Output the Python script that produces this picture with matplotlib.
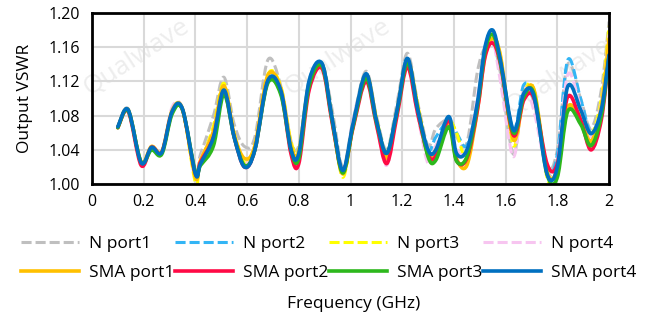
import matplotlib
matplotlib.use("Agg")
from matplotlib import pyplot as plt
from matplotlib.path import Path
from matplotlib.patches import PathPatch
from matplotlib.lines import Line2D

plt.rcParams['font.family'] = ['Open Sans', 'DejaVu Sans']

freq = [0.10, 0.14, 0.19, 0.23, 0.27, 0.31, 0.35, 0.40,
        0.42, 0.47, 0.51, 0.55, 0.59, 0.63, 0.68, 0.73,
        0.77, 0.80, 0.84, 0.89, 0.93, 0.97, 1.01, 1.06,
        1.10, 1.14, 1.18, 1.22, 1.26, 1.30, 1.33, 1.38,
        1.41, 1.45, 1.49, 1.52, 1.55, 1.58, 1.63, 1.67,
        1.71, 1.76, 1.80, 1.84, 1.89, 1.93, 1.97, 2.00]

n_port1 = [1.067, 1.088, 1.026, 1.043, 1.038, 1.085, 1.088, 1.015,
           1.035, 1.080, 1.125, 1.070, 1.044, 1.055, 1.145, 1.115,
           1.050, 1.045, 1.115, 1.140, 1.085, 1.020, 1.075, 1.132,
           1.080, 1.040, 1.095, 1.153, 1.095, 1.045, 1.065, 1.075,
           1.055, 1.048, 1.130, 1.160, 1.165, 1.130, 1.035, 1.110,
           1.095, 1.020, 1.040, 1.140, 1.100, 1.065, 1.110, 1.190]
n_port2 = [1.067, 1.087, 1.025, 1.043, 1.037, 1.085, 1.088, 1.012,
           1.024, 1.055, 1.110, 1.055, 1.020, 1.040, 1.121, 1.110,
           1.040, 1.036, 1.121, 1.141, 1.075, 1.016, 1.071, 1.129,
           1.075, 1.036, 1.087, 1.147, 1.087, 1.040, 1.055, 1.075,
           1.060, 1.045, 1.094, 1.160, 1.178, 1.145, 1.063, 1.116,
           1.100, 1.015, 1.035, 1.145, 1.100, 1.060, 1.090, 1.160]
n_port3 = [1.066, 1.087, 1.025, 1.044, 1.037, 1.086, 1.087, 1.002,
           1.025, 1.068, 1.118, 1.060, 1.025, 1.045, 1.128, 1.115,
           1.050, 1.040, 1.118, 1.138, 1.075, 1.008, 1.068, 1.128,
           1.078, 1.033, 1.088, 1.145, 1.092, 1.035, 1.035, 1.072,
           1.060, 1.030, 1.090, 1.150, 1.172, 1.150, 1.045, 1.105,
           1.110, 1.008, 1.010, 1.088, 1.080, 1.058, 1.100, 1.185]
n_port4 = [1.067, 1.087, 1.025, 1.044, 1.038, 1.090, 1.088, 1.010,
           1.030, 1.062, 1.112, 1.055, 1.025, 1.042, 1.125, 1.110,
           1.045, 1.034, 1.110, 1.138, 1.070, 1.012, 1.075, 1.125,
           1.070, 1.022, 1.090, 1.140, 1.080, 1.024, 1.045, 1.070,
           1.040, 1.040, 1.100, 1.158, 1.168, 1.120, 1.032, 1.110,
           1.085, 1.015, 1.025, 1.128, 1.090, 1.055, 1.095, 1.175]
sma_port1 = [1.066, 1.087, 1.026, 1.044, 1.038, 1.086, 1.088, 1.008,
             1.028, 1.062, 1.115, 1.058, 1.030, 1.045, 1.127, 1.112,
             1.045, 1.038, 1.118, 1.140, 1.073, 1.012, 1.068, 1.128,
             1.075, 1.030, 1.085, 1.145, 1.090, 1.035, 1.040, 1.072,
             1.030, 1.022, 1.085, 1.150, 1.170, 1.150, 1.052, 1.100,
             1.110, 1.015, 1.018, 1.090, 1.075, 1.050, 1.090, 1.170]
sma_port2 = [1.066, 1.085, 1.022, 1.043, 1.037, 1.084, 1.087, 1.012,
             1.026, 1.055, 1.108, 1.055, 1.020, 1.040, 1.120, 1.108,
             1.035, 1.024, 1.110, 1.135, 1.070, 1.015, 1.066, 1.120,
             1.070, 1.024, 1.080, 1.137, 1.082, 1.035, 1.033, 1.075,
             1.028, 1.030, 1.085, 1.148, 1.165, 1.140, 1.057, 1.098,
             1.100, 1.024, 1.024, 1.102, 1.075, 1.040, 1.075, 1.150]
sma_port3 = [1.066, 1.086, 1.026, 1.040, 1.035, 1.082, 1.087, 1.014,
             1.022, 1.045, 1.105, 1.055, 1.022, 1.040, 1.118, 1.105,
             1.040, 1.030, 1.115, 1.138, 1.073, 1.013, 1.068, 1.124,
             1.073, 1.036, 1.085, 1.142, 1.088, 1.032, 1.028, 1.067,
             1.027, 1.032, 1.090, 1.155, 1.175, 1.142, 1.060, 1.102,
             1.105, 1.012, 1.008, 1.085, 1.070, 1.045, 1.080, 1.150]
sma_port4 = [1.067, 1.087, 1.025, 1.043, 1.037, 1.085, 1.088, 1.012,
             1.024, 1.055, 1.110, 1.055, 1.020, 1.040, 1.121, 1.110,
             1.040, 1.036, 1.121, 1.141, 1.075, 1.016, 1.071, 1.129,
             1.075, 1.036, 1.087, 1.147, 1.087, 1.040, 1.040, 1.079,
             1.036, 1.040, 1.094, 1.160, 1.180, 1.145, 1.063, 1.106,
             1.102, 1.012, 1.020, 1.114, 1.087, 1.059, 1.087, 1.151]

x_ticks = [0, 0.2, 0.4, 0.6, 0.8, 1, 1.2, 1.4, 1.6, 1.8, 2]
x_labels = ['0', '0.2', '0.4', '0.6', '0.8', '1', '1.2', '1.4', '1.6', '1.8', '2']
y_ticks = [1.00, 1.04, 1.08, 1.12, 1.16, 1.20]

DASH = (0, (3.3, 1.3))


def smooth_path(xs, ys):
    # Excel style "smoothed line": bezier through the data points
    verts = [(xs[0], ys[0])]
    codes = [Path.MOVETO]
    n = len(xs)
    for i in range(n - 1):
        x0, y0 = xs[max(i - 1, 0)], ys[max(i - 1, 0)]
        x1, y1 = xs[i], ys[i]
        x2, y2 = xs[i + 1], ys[i + 1]
        x3, y3 = xs[min(i + 2, n - 1)], ys[min(i + 2, n - 1)]
        verts += [(x1 + (x2 - x0) / 6, y1 + (y2 - y0) / 6),
                  (x2 - (x3 - x1) / 6, y2 - (y3 - y1) / 6),
                  (x2, y2)]
        codes += [Path.CURVE4] * 3
    return Path(verts, codes)


fig = plt.figure(figsize=(6.5, 3.18), dpi=100)
ax = fig.add_axes([0.1415, 0.421, 0.7955, 0.538])
ax.set_zorder(2)

# faint watermark
for wx, wy in [(0.21, 0.82), (0.52, 0.82), (0.86, 0.76)]:
    fig.text(wx, wy, 'Qualwave', fontsize=19, color='#ededed', rotation=33,
             ha='center', va='center', zorder=0)

dashed = [('N port1', n_port1, '#bfbfbf'),
          ('N port2', n_port2, '#33b5f5'),
          ('N port3', n_port3, '#ffff00'),
          ('N port4', n_port4, '#f7c5f0')]
solid = [('SMA port1', sma_port1, '#ffc000'),
         ('SMA port2', sma_port2, '#ff0a45'),
         ('SMA port3', sma_port3, '#2db81c'),
         ('SMA port4', sma_port4, '#0070c0')]

h_dash = []
h_solid = []
for name, vals, col in dashed:
    ax.add_patch(PathPatch(smooth_path(freq, vals), fill=False, edgecolor=col,
                           lw=2.2, ls=DASH, capstyle='butt', joinstyle='round'))
    h_dash.append(Line2D([], [], color=col, lw=2.2, ls=DASH, label=name))
for name, vals, col in solid:
    ax.add_patch(PathPatch(smooth_path(freq, vals), fill=False, edgecolor=col,
                           lw=2.6, capstyle='round', joinstyle='round'))
    h_solid.append(Line2D([], [], color=col, lw=2.6, label=name))

# legend fills column by column: interleave so rows read N..., SMA...
handles = []
for a, b in zip(h_dash, h_solid):
    handles += [a, b]

ax.set_xlim(0, 2)
ax.set_ylim(1.0, 1.2)
ax.set_xticks(x_ticks)
ax.set_xticklabels(x_labels)
ax.set_yticks(y_ticks)
ax.set_yticklabels(['%.2f' % v for v in y_ticks])
ax.tick_params(axis='x', length=0, labelsize=11.5, pad=7)
ax.tick_params(axis='y', length=0, labelsize=11.5, pad=8.5)
ax.grid(True, color='#d9d9d9', lw=1.5)
ax.set_axisbelow(True)
ax.patch.set_alpha(0)
for s in ax.spines.values():
    s.set_linewidth(2)
    s.set_color('black')
ax.set_ylabel('Output VSWR', fontsize=12.5)
ax.yaxis.set_label_coords(-0.114, 0.5)

fig.legend(handles=handles, loc='center', bbox_to_anchor=(0.506, 0.187), ncol=4,
           frameon=False, fontsize=12.5, handlelength=3.3, handletextpad=0.6,
           columnspacing=0.05, labelspacing=0.78)
fig.text(0.544, 0.045, 'Frequency (GHz)', ha='center', va='center', fontsize=12.5)

fig.savefig('out.png', dpi=100)
